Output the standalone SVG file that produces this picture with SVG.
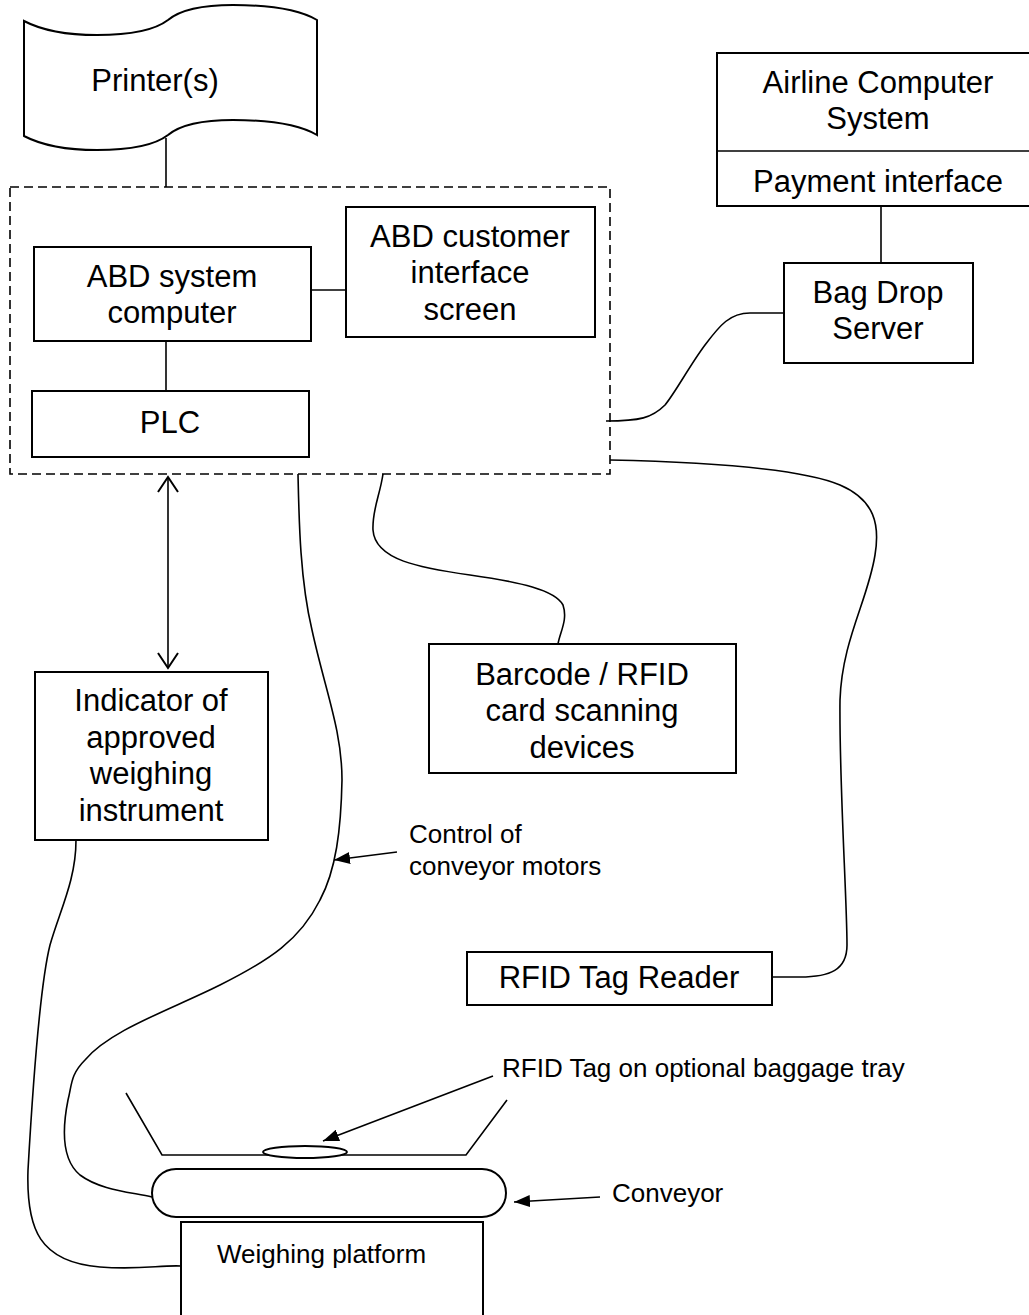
<svg xmlns="http://www.w3.org/2000/svg" width="1029" height="1315" viewBox="0 0 1029 1315">
<style>
.b{fill:#fff;stroke:#000;stroke-width:2}
.c{fill:none;stroke:#000;stroke-width:1.6}
.d{fill:none;stroke:#000;stroke-width:1.6;stroke-dasharray:9 5}
.t{font-family:"Liberation Sans",Arial,sans-serif;font-size:31px;text-anchor:middle;fill:#000}
.s{font-family:"Liberation Sans",Arial,sans-serif;font-size:26px;fill:#000}
</style>
<defs>
<marker id="fa" viewBox="0 0 16 12" refX="16" refY="6" markerWidth="16" markerHeight="12" markerUnits="userSpaceOnUse" orient="auto"><path d="M0,0 L16,6 L0,12 Z" fill="#000"/></marker>
<marker id="oa" viewBox="0 0 18 22" refX="16" refY="11" markerWidth="18" markerHeight="22" markerUnits="userSpaceOnUse" orient="auto-start-reverse"><path d="M1,1 L16,11 L1,21" fill="none" stroke="#000" stroke-width="2"/></marker>
</defs>
<rect width="1029" height="1315" fill="#fff"/>

<g id="connectors">
<line class="c" x1="166" y1="138" x2="166" y2="187"/>
<line class="c" x1="881" y1="206" x2="881" y2="263"/>
<line class="c" x1="311" y1="290" x2="350" y2="290"/>
<line class="c" x1="166" y1="341" x2="166" y2="391"/>
<line class="c" x1="168" y1="477" x2="168" y2="668" marker-start="url(#oa)" marker-end="url(#oa)"/>
<path class="c" d="M606,421 C640,421 652,418 665,405 C675,393 690,365 705,345 C720,325 730,313 750,313 L784,313"/>
<path class="c" d="M610,460 C700,462 800,468 840,485 C875,500 880,525 875,555 C868,600 842,640 840,700 C839,780 847,900 847,945 C847,970 830,977 800,977 L772,977"/>
<path class="c" d="M383,474 C380,495 372,510 373,530 C375,560 420,568 470,575 C520,582 555,590 563,605 C568,620 560,632 558,644"/>
<path class="c" d="M298,474 C299,520 300,580 312,630 C325,690 342,730 342,780 C341,830 336,870 320,900 C300,940 270,960 220,985 C170,1010 110,1030 85,1060 C70,1075 72,1085 68,1100 C62,1130 62,1160 80,1175 C100,1190 130,1192 152,1197"/>
<path class="c" d="M76,840 C76,880 60,910 50,945 C40,985 32,1100 28,1170 C26,1230 40,1262 100,1267 C140,1270 160,1265 181,1266"/>
<line class="c" stroke-width="2.2" x1="397" y1="852" x2="334" y2="860" marker-end="url(#fa)"/>
<line class="c" stroke-width="2.2" x1="493" y1="1076" x2="323" y2="1141" marker-end="url(#fa)"/>
<line class="c" stroke-width="2.2" x1="600" y1="1197" x2="514" y2="1202" marker-end="url(#fa)"/>
</g>

<g id="printer">
<path class="b" d="M24,21 C45,32 70,35 97,35 C130,35 155,30 168,20 C180,10 200,5 233,5 C270,5 300,10 317,20 L317,135 C300,125 270,120 233,120 C200,120 180,125 168,135 C155,145 130,150 97,150 C70,150 45,147 24,136 Z"/>
<text class="t" x="155" y="91">Printer(s)</text>
</g>

<g id="abd-enclosure">
<rect class="d" x="10" y="187" width="600" height="287"/>
</g>

<g id="abd-system-computer">
<rect class="b" x="34" y="247" width="277" height="94"/>
<text class="t" x="172" y="287">ABD system</text>
<text class="t" x="172" y="323">computer</text>
</g>

<g id="abd-customer-screen">
<rect class="b" x="346" y="207" width="249" height="130"/>
<text class="t" x="470" y="247">ABD customer</text>
<text class="t" x="470" y="283">interface</text>
<text class="t" x="470" y="320">screen</text>
</g>

<g id="plc">
<rect class="b" x="32" y="391" width="277" height="66"/>
<text class="t" x="170" y="433">PLC</text>
</g>

<g id="airline-system">
<rect class="b" x="717" y="53" width="330" height="153"/>
<line class="c" stroke-width="2" x1="717" y1="151" x2="1029" y2="151"/>
<text class="t" x="878" y="93">Airline Computer</text>
<text class="t" x="878" y="129">System</text>
<text class="t" x="878" y="192">Payment interface</text>
</g>

<g id="bag-drop-server">
<rect class="b" x="784" y="263" width="189" height="100"/>
<text class="t" x="878" y="303">Bag Drop</text>
<text class="t" x="878" y="339">Server</text>
</g>

<g id="barcode-rfid">
<rect class="b" x="429" y="644" width="307" height="129"/>
<text class="t" x="582" y="685">Barcode / RFID</text>
<text class="t" x="582" y="721">card scanning</text>
<text class="t" x="582" y="758">devices</text>
</g>

<g id="indicator">
<rect class="b" x="35" y="672" width="233" height="168"/>
<text class="t" x="151" y="711">Indicator of</text>
<text class="t" x="151" y="748">approved</text>
<text class="t" x="151" y="784">weighing</text>
<text class="t" x="151" y="821">instrument</text>
</g>

<g id="rfid-tag-reader">
<rect class="b" x="467" y="952" width="305" height="53"/>
<text class="t" x="619" y="988">RFID Tag Reader</text>
</g>

<g id="tray">
<path class="c" d="M126,1093 L162,1155 L466,1155 L507,1100"/>
<ellipse class="b" stroke-width="1.6" cx="305" cy="1152" rx="42" ry="6"/>
</g>

<g id="conveyor">
<rect class="b" x="152" y="1169" width="354" height="48" rx="24" ry="24"/>
</g>

<g id="weighing-platform">
<rect class="b" x="181" y="1222" width="302" height="110"/>
<text class="s" x="217" y="1263">Weighing platform</text>
</g>

<g id="labels">
<text class="s" x="409" y="843">Control of</text>
<text class="s" x="409" y="875">conveyor motors</text>
<text class="s" x="502" y="1077">RFID Tag on optional baggage tray</text>
<text class="s" x="612" y="1202">Conveyor</text>
</g>
</svg>
